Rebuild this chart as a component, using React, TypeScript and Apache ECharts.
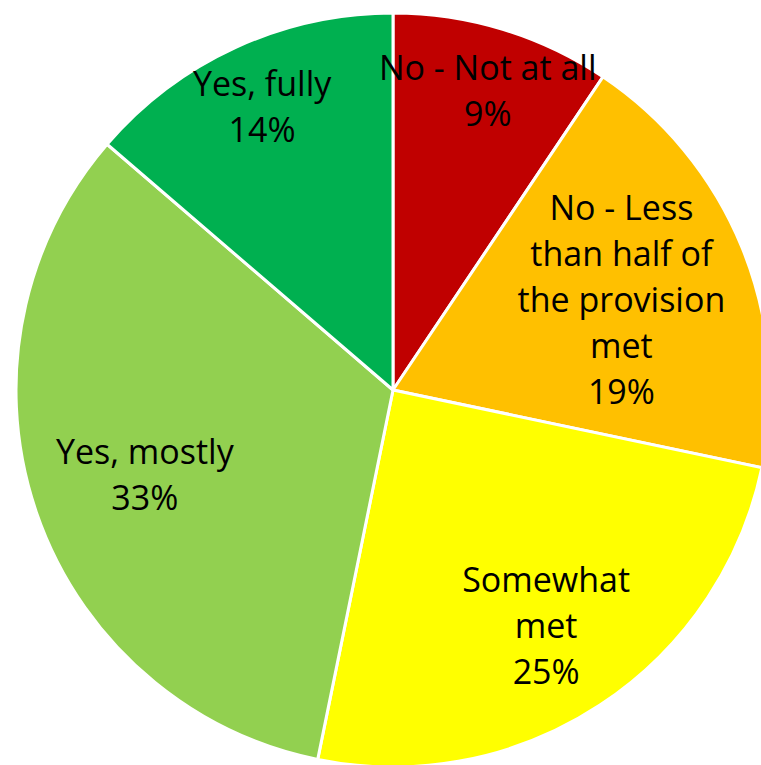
import React, { useEffect, useRef } from "react";
import * as echarts from "echarts";

const categories = [
  "No - Not at all",
  "No - Less than half of the provision met",
  "Somewhat met",
  "Yes, mostly",
  "Yes, fully",
];
const labelLines = [
  "No - Not at all",
  "No - Less\nthan half of\nthe provision\nmet",
  "Somewhat\nmet",
  "Yes, mostly",
  "Yes, fully",
];
const values = [9.4, 18.9, 24.9, 33.1, 13.7];
const colors = ["#C00000", "#FFC000", "#FFFF00", "#92D050", "#00B050"];
const labelShift = [
  [39, -117],
  [51, -19],
  [48, 75],
  [-67, 22],
  [-51, -110],
];

export default function App() {
  const ref = useRef<HTMLDivElement>(null);
  useEffect(() => {
    if (!ref.current) return;
    const chart = echarts.init(ref.current, null, { renderer: "svg" });
    chart.setOption({
      animation: false,
      backgroundColor: "#ffffff",
      series: [
        {
          type: "pie",
          center: [393, 390],
          radius: 377,
          startAngle: 90,
          clockwise: true,
          avoidLabelOverlap: false,
          itemStyle: { borderColor: "#ffffff", borderWidth: 3 },
          label: {
            show: true,
            position: "inside",
            color: "#000000",
            fontFamily: "Open Sans",
            fontSize: 34,
            lineHeight: 46,
            align: "center",
            formatter: (p: any) =>
              labelLines[p.dataIndex] + "\n" + Math.round(p.value) + "%",
          },
          labelLine: { show: false },
          emphasis: { disabled: true },
          labelLayout: (p: any) => ({
            dx: labelShift[p.dataIndex][0],
            dy: labelShift[p.dataIndex][1],
          }),
          data: categories.map((c, i) => ({
            name: c,
            value: values[i],
            itemStyle: { color: colors[i] },
          })),
        },
      ],
    });
    return () => chart.dispose();
  }, []);
  return (
    <div
      ref={ref}
      style={{ position: "fixed", left: 0, top: 0, width: 761, height: 765 }}
    />
  );
}
